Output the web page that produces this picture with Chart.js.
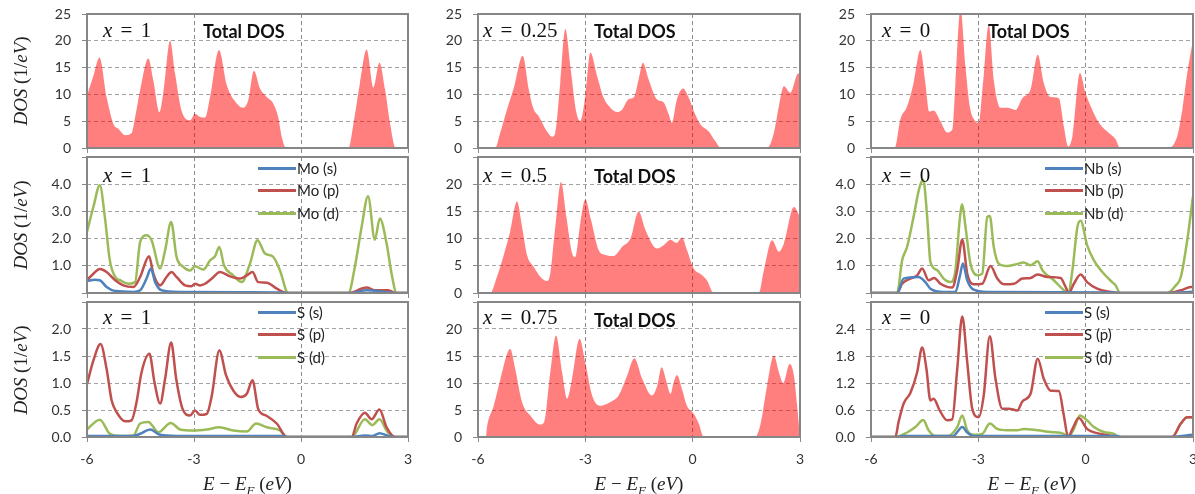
<!DOCTYPE html>
<html>
<head>
<meta charset="utf-8">
<script src="https://cdn.jsdelivr.net/npm/chart.js@4.4.1/dist/chart.umd.min.js"></script>
<style>
  html, body { margin: 0; padding: 0; background: #fff; overflow: hidden; }
  body { width: 1195px; height: 494px; position: relative; font-family: Lato, sans-serif; }
  .box { position: absolute; }
  .box canvas { display: block; }
  .xlab { position: absolute; font-family: "Liberation Serif", serif; font-size: 21px; word-spacing: 3px;
          line-height: 1; color: #111; white-space: nowrap; }
  .tag { position: absolute; font-family: Lato, sans-serif; font-weight: bold; font-size: 18px;
         line-height: 1; color: #111; white-space: nowrap; }
  .leg { position: absolute; font-size: 15px; line-height: 15px; height: 15px; color: #222;
         white-space: nowrap; display: flex; align-items: center; }
  .leg span { display: inline-block; width: 38px; height: 3px; margin-right: 1px; }
  .ytitle, .xtitle { position: absolute; font-family: "Liberation Serif", serif; white-space: nowrap;
                     color: #222; line-height: 1; }
  .ytitle { font-size: 19px; transform: translate(-50%, -50%) rotate(-90deg); }
  .xtitle { font-size: 19px; transform: translateX(-50%); }
</style>
</head>
<body>
<script>
// tick labels
const energyTicks = ['-6', '-3', '0', '3'];
const totTicks = ['0', '5', '10', '15', '20', '25'];
const totTicksCut = ['0', '5', '10', '15', '20', ''];
const dTicks = ['', '1.0', '2.0', '3.0', '4.0', ''];
const sMoTicks = ['0.0', '0.5', '1.0', '1.5', '2.0', ''];
const sNbTicks = ['0.0', '0.6', '1.2', '1.8', '2.4', ''];

const moNames = ['Mo (s)', 'Mo (p)', 'Mo (d)'];
const nbNames = ['Nb (s)', 'Nb (p)', 'Nb (d)'];
const sNames = ['S (s)', 'S (p)', 'S (d)'];

// total DOS, [E - EF (eV), DOS]
const totX1 = [[-6,9.8],[-5.82,13.5],[-5.65,16.9],[-5.45,9.5],[-5.26,4.5],[-5.12,3.6],[-4.93,2.4],[-4.75,2.8],[-4.65,5.8],[-4.51,10.8],[-4.28,16.7],[-4.14,12.6],[-3.97,6.7],[-3.84,11.4],[-3.67,20.0],[-3.53,13.9],[-3.35,7.0],[-3.11,5.2],[-2.97,6.4],[-2.83,5.8],[-2.69,5.7],[-2.55,9.5],[-2.30,18.3],[-2.08,11.7],[-1.80,8.3],[-1.62,7.5],[-1.48,8.9],[-1.32,14.4],[-1.15,11.1],[-0.96,9.5],[-0.78,8.3],[-0.64,5.8],[-0.54,2.1],[-0.42,0],[1.33,0],[1.47,4.5],[1.65,12.0],[1.84,18.4],[2.03,11.3],[2.20,15.9],[2.36,10.8],[2.50,4.5],[2.66,0],[3,0]];
const totX025 = [[-6,0],[-5.52,0],[-5.38,2.8],[-5.19,7.2],[-5.0,11.2],[-4.75,17.2],[-4.58,10.9],[-4.46,7.5],[-4.30,5.9],[-4.07,3.1],[-3.93,2.1],[-3.84,2.8],[-3.70,12.2],[-3.56,22.2],[-3.42,15.3],[-3.25,6.6],[-3.14,5.0],[-3.0,9.7],[-2.86,17.8],[-2.67,13.4],[-2.49,9.4],[-2.30,7.5],[-2.11,6.7],[-1.97,7.2],[-1.79,9.1],[-1.65,9.4],[-1.51,12.8],[-1.39,15.9],[-1.23,12.8],[-1.0,9.1],[-0.81,8.5],[-0.67,6.3],[-0.58,4.7],[-0.44,9.1],[-0.27,11.1],[-0.11,9.4],[0.03,6.9],[0.22,4.4],[0.45,3.1],[0.64,1.2],[0.79,0],[2.08,0],[2.27,2.8],[2.41,7.8],[2.55,11.5],[2.73,10.3],[2.95,13.9],[3,13.9]];
const totX05 = [[-6,0],[-5.66,0],[-5.47,3.0],[-5.28,7.0],[-5.10,11.3],[-4.91,16.8],[-4.77,12.2],[-4.63,7.0],[-4.44,4.8],[-4.26,3.0],[-4.07,2.2],[-3.98,3.6],[-3.84,12.2],[-3.68,20.4],[-3.53,14.0],[-3.37,7.3],[-3.28,6.6],[-3.14,12.8],[-3.0,17.2],[-2.84,13.4],[-2.63,7.9],[-2.44,7.0],[-2.21,6.8],[-1.97,8.5],[-1.74,10.0],[-1.51,15.0],[-1.32,11.6],[-1.0,8.2],[-0.81,8.8],[-0.62,9.8],[-0.45,9.2],[-0.30,10.2],[-0.16,7.9],[0.03,4.5],[0.26,3.3],[0.40,2.3],[0.59,0],[1.85,0],[1.99,4.2],[2.22,9.7],[2.41,7.6],[2.55,9.1],[2.83,15.8],[3,14.0]];
const totX075 = [[-6,0],[-5.78,0],[-5.75,1.8],[-5.56,5.8],[-5.38,10.5],[-5.10,16.3],[-4.96,12.6],[-4.77,6.5],[-4.54,4.0],[-4.26,2.3],[-4.15,2.8],[-3.98,12.0],[-3.82,18.8],[-3.65,12.0],[-3.51,7.1],[-3.37,10.8],[-3.16,18.2],[-3.0,13.8],[-2.81,7.7],[-2.58,5.8],[-2.30,6.5],[-2.07,7.7],[-1.83,11.4],[-1.63,14.6],[-1.41,10.8],[-1.14,7.7],[-0.99,9.5],[-0.87,12.9],[-0.73,10.2],[-0.62,8.0],[-0.53,10.2],[-0.44,11.5],[-0.30,8.9],[-0.16,5.8],[0.03,4.3],[0.17,2.5],[0.31,0],[1.75,0],[1.89,2.2],[2.08,9.5],[2.27,15.1],[2.41,12.0],[2.53,10.0],[2.71,13.5],[2.83,11.4],[2.92,5.8],[3,0]];
const totX0 = [[-6,0],[-5.34,0],[-5.18,5.3],[-4.99,7.8],[-4.81,12.1],[-4.62,18.3],[-4.48,12.1],[-4.37,6.8],[-4.25,7.0],[-4.06,5.0],[-3.87,2.9],[-3.73,3.4],[-3.64,12.1],[-3.50,26],[-3.36,15.2],[-3.24,7.8],[-3.08,5.0],[-2.99,4.7],[-2.87,12.1],[-2.71,23],[-2.57,12.7],[-2.38,7.5],[-2.19,7.5],[-1.96,7.1],[-1.77,9.3],[-1.54,10.9],[-1.34,17.4],[-1.17,12.1],[-0.98,9.5],[-0.75,9.3],[-0.61,4.0],[-0.49,0.3],[-0.37,2.2],[-0.16,14.0],[0.0,10.2],[0.14,7.8],[0.37,4.7],[0.70,2.5],[0.84,1.6],[0.96,0],[2.28,0],[2.56,2.2],[2.70,7.1],[2.84,14.0],[3,20.2]];

// Mo partial DOS (x = 1)
const moS = [[-6,0.44],[-5.78,0.49],[-5.64,0.47],[-5.45,0.22],[-5.21,0.07],[-4.70,0.04],[-4.51,0.1],[-4.33,0.53],[-4.21,0.9],[-4.09,0.4],[-3.91,0.1],[-3.39,0.04],[-1.5,0.03],[-0.5,0.02],[-0.4,0],[1.4,0],[1.84,0.1],[2.3,0.05],[2.64,0],[3,0]];
const moP = [[-6,0.47],[-5.82,0.71],[-5.64,0.88],[-5.45,0.77],[-5.21,0.47],[-4.98,0.28],[-4.70,0.22],[-4.51,0.59],[-4.26,1.35],[-4.14,0.71],[-3.95,0.28],[-3.77,0.59],[-3.63,0.77],[-3.49,0.59],[-3.25,0.28],[-3.07,0.25],[-2.97,0.34],[-2.83,0.28],[-2.69,0.34],[-2.50,0.53],[-2.27,0.77],[-1.99,0.61],[-1.71,0.53],[-1.52,0.65],[-1.36,0.77],[-1.20,0.4],[-0.96,0.38],[-0.68,0.16],[-0.40,0],[1.33,0],[1.84,0.2],[2.07,0.1],[2.45,0.1],[2.64,0],[3,0]];
const moD = [[-6,2.25],[-5.82,3.17],[-5.64,3.96],[-5.50,2.8],[-5.36,1.2],[-5.21,0.59],[-5.07,0.47],[-4.84,0.34],[-4.65,0.4],[-4.51,1.88],[-4.33,2.12],[-4.19,1.94],[-3.95,0.9],[-3.81,1.57],[-3.64,2.61],[-3.49,1.33],[-3.30,0.96],[-3.11,0.83],[-2.97,0.98],[-2.74,0.86],[-2.55,1.2],[-2.41,1.35],[-2.29,1.69],[-2.16,1.02],[-1.90,0.65],[-1.66,0.4],[-1.43,1.08],[-1.22,1.94],[-1.01,1.45],[-0.78,1.33],[-0.59,0.83],[-0.36,0],[1.33,0],[1.51,0.96],[1.70,2.43],[1.88,3.56],[2.07,1.96],[2.21,2.74],[2.40,1.82],[2.54,0.71],[2.68,0],[3,0]];

// S partial DOS (x = 1)
const smS = [[-6,0.02],[-4.7,0.02],[-4.51,0.06],[-4.23,0.14],[-3.95,0.04],[-3.5,0.02],[-0.5,0.02],[-0.4,0],[1.42,0],[1.79,0.03],[2.0,0.02],[2.2,0.07],[2.45,0.02],[2.64,0],[3,0]];
const smP = [[-6,0.98],[-5.82,1.42],[-5.62,1.72],[-5.45,1.26],[-5.31,0.68],[-5.17,0.46],[-4.93,0.29],[-4.75,0.31],[-4.61,0.65],[-4.47,1.2],[-4.25,1.54],[-4.11,1.02],[-3.95,0.62],[-3.81,1.08],[-3.64,1.75],[-3.50,1.08],[-3.32,0.52],[-3.11,0.4],[-2.97,0.49],[-2.83,0.41],[-2.64,0.43],[-2.50,0.77],[-2.29,1.6],[-2.10,1.14],[-1.90,0.86],[-1.69,0.74],[-1.52,0.8],[-1.36,1.05],[-1.20,0.52],[-0.96,0.39],[-0.68,0.25],[-0.40,0],[1.42,0],[1.56,0.25],[1.79,0.45],[1.98,0.33],[2.20,0.51],[2.40,0.18],[2.64,0],[3,0]];
const smD = [[-6,0.14],[-5.64,0.32],[-5.36,0.06],[-5.07,0.02],[-4.70,0.03],[-4.51,0.25],[-4.28,0.28],[-4.0,0.09],[-3.65,0.26],[-3.39,0.14],[-3.02,0.12],[-2.64,0.14],[-2.29,0.18],[-1.90,0.12],[-1.52,0.1],[-1.26,0.25],[-0.96,0.18],[-0.59,0.12],[-0.40,0],[1.42,0],[1.79,0.33],[2.0,0.22],[2.20,0.33],[2.43,0.09],[2.64,0],[3,0]];

// Nb partial DOS (x = 0)
const nbS = [[-6,0],[-5.27,0],[-5.09,0.53],[-4.67,0.59],[-4.48,0.4],[-4.34,0.16],[-3.97,0.04],[-3.64,0.04],[-3.52,0.6],[-3.43,1.08],[-3.31,0.47],[-3.13,0.12],[-2.75,0.04],[0.8,0.02],[1.0,0],[2.3,0],[3,0.05]];
const nbP = [[-6,0],[-5.27,0],[-5.13,0.34],[-4.90,0.53],[-4.71,0.65],[-4.57,0.9],[-4.39,0.47],[-4.23,0.55],[-4.06,0.34],[-3.73,0.2],[-3.59,0.84],[-3.45,1.97],[-3.31,0.71],[-3.13,0.32],[-2.89,0.34],[-2.66,0.99],[-2.47,0.53],[-2.29,0.32],[-2.0,0.34],[-1.77,0.53],[-1.54,0.55],[-1.35,0.68],[-1.07,0.59],[-0.70,0.55],[-0.56,0.22],[-0.47,0],[-0.33,0.34],[-0.14,0.68],[0.04,0.4],[0.32,0.16],[0.70,0.04],[0.93,0],[2.28,0],[2.66,0.1],[2.94,0.22],[3,0.22]];
const nbD = [[-6,0],[-5.27,0],[-5.13,1.2],[-4.99,1.7],[-4.81,2.8],[-4.65,3.85],[-4.54,4.16],[-4.43,2.8],[-4.34,1.15],[-4.15,0.84],[-3.97,0.53],[-3.78,0.4],[-3.64,0.84],[-3.52,2.7],[-3.45,3.26],[-3.36,2.44],[-3.22,1.08],[-3.03,0.65],[-2.89,0.71],[-2.75,2.8],[-2.68,2.83],[-2.57,1.7],[-2.43,1.08],[-2.19,0.99],[-1.96,1.05],[-1.73,1.12],[-1.54,1.02],[-1.34,1.17],[-1.21,0.84],[-0.89,0.47],[-0.61,0.1],[-0.49,0],[-0.37,0.84],[-0.23,2.44],[-0.14,2.66],[0.04,1.76],[0.23,1.2],[0.46,0.78],[0.74,0.4],[0.84,0.28],[0.96,0],[2.28,0],[2.52,0.28],[2.66,0.59],[2.84,1.95],[3,3.55]];

// S partial DOS (x = 0)
const snS = [[-6,0],[-5.3,0],[-5.1,0.02],[-3.7,0.02],[-3.59,0.11],[-3.45,0.22],[-3.31,0.1],[-3.13,0.02],[0.9,0.02],[1.0,0],[2.3,0],[3,0.05]];
const snP = [[-6,0],[-5.32,0],[-5.23,0.33],[-5.09,0.74],[-4.90,0.98],[-4.71,1.44],[-4.57,1.99],[-4.45,1.51],[-4.34,0.81],[-4.25,0.85],[-4.08,0.59],[-3.87,0.37],[-3.73,0.39],[-3.59,1.51],[-3.45,2.68],[-3.31,1.66],[-3.17,0.63],[-2.99,0.44],[-2.85,0.92],[-2.68,2.24],[-2.52,1.29],[-2.33,0.63],[-2.15,0.63],[-1.91,0.59],[-1.77,0.79],[-1.54,0.96],[-1.34,1.74],[-1.17,1.29],[-0.98,1.03],[-0.75,1.02],[-0.61,0.48],[-0.49,0],[-0.37,0.18],[-0.19,0.42],[0.04,0.18],[0.42,0.07],[0.79,0.02],[0.93,0],[2.42,0],[2.66,0.3],[2.84,0.44],[3,0.44]];
const snD = [[-6,0],[-5.32,0],[-4.99,0.1],[-4.76,0.22],[-4.54,0.38],[-4.39,0.15],[-4.20,0.02],[-3.87,0.02],[-3.59,0.22],[-3.45,0.48],[-3.31,0.15],[-3.13,0.05],[-2.89,0.07],[-2.68,0.3],[-2.47,0.18],[-2.19,0.15],[-1.91,0.15],[-1.73,0.18],[-1.35,0.15],[-0.98,0.11],[-0.61,0.07],[-0.49,0],[-0.33,0.18],[-0.16,0.48],[0.04,0.37],[0.23,0.22],[0.51,0.11],[0.79,0.07],[0.93,0],[2.42,0],[2.66,0.3],[2.84,0.44],[3,0.44]];

const pdosColors = ['#4f81bd', '#c0504d', '#9bbb59'];
const totColor = 'rgba(255,0,0,0.5)';

// layout of the 3x3 grid (pixels)
const colLeft = [0, 410, 800];
const plotL = [87, 478, 871];
const plotR = [408, 800, 1193];
const plotT = [14, 157, 302];
const plotB = [148, 293, 437];
const xLabPos = [103, 483, 882];
const xLabTop = [20, 165, 307];
const tagLeft = [203, 594, 988];
const tagTop = [22, 167, 311];

const panels = [
  { c: 0, r: 0, x: '1', total: totX1, ticks: totTicks, max: 25 },
  { c: 0, r: 1, x: '1', series: [moS, moP, moD], names: moNames, ticks: dTicks, max: 5, leg: [258, 168] },
  { c: 0, r: 2, x: '1', series: [smS, smP, smD], names: sNames, ticks: sMoTicks, max: 2.5, leg: [258, 312] },
  { c: 1, r: 0, x: '0.25', total: totX025, ticks: totTicks, max: 25 },
  { c: 1, r: 1, x: '0.5', total: totX05, ticks: totTicksCut, max: 25 },
  { c: 1, r: 2, x: '0.75', total: totX075, ticks: totTicksCut, max: 25 },
  { c: 2, r: 0, x: '0', total: totX0, ticks: totTicks, max: 25 },
  { c: 2, r: 1, x: '0', series: [nbS, nbP, nbD], names: nbNames, ticks: dTicks, max: 5, leg: [1045, 168] },
  { c: 2, r: 2, x: '0', series: [snS, snP, snD], names: sNames, ticks: sNbTicks, max: 3, leg: [1045, 312] }
];

Chart.defaults.font.family = 'Lato';
Chart.defaults.font.size = 14;
Chart.defaults.color = '#333';

const frame = {
  id: 'frame',
  afterDraw(chart) {
    const a = chart.chartArea, ctx = chart.ctx;
    ctx.save();
    ctx.strokeStyle = '#868686';
    ctx.lineWidth = 2;
    ctx.strokeRect(a.left, a.top, a.right - a.left, a.bottom - a.top);
    ctx.restore();
  }
};

function addEl(cls, html, left, top) {
  const el = document.createElement('div');
  el.className = cls;
  el.innerHTML = html;
  el.style.left = left + 'px';
  el.style.top = top + 'px';
  document.body.appendChild(el);
  return el;
}

const toXY = arr => arr.map(p => ({ x: p[0], y: p[1] }));

panels.forEach(p => {
  const padT = 10, padR = 10;
  const xH = p.r === 2 ? 40 : 6;
  const yW = plotL[p.c] - colLeft[p.c];
  const box = document.createElement('div');
  box.className = 'box';
  box.style.left = colLeft[p.c] + 'px';
  box.style.top = (plotT[p.r] - padT) + 'px';
  box.style.width = (plotR[p.c] - colLeft[p.c] + padR) + 'px';
  box.style.height = (plotB[p.r] - plotT[p.r] + padT + xH) + 'px';
  const cv = document.createElement('canvas');
  box.appendChild(cv);
  document.body.appendChild(box);

  let datasets;
  if (p.total) {
    datasets = [{
      label: 'Total DOS',
      data: toXY(p.total),
      fill: 'origin',
      backgroundColor: totColor,
      borderColor: 'transparent',
      borderWidth: 0,
      pointRadius: 0,
      cubicInterpolationMode: 'monotone'
    }];
  } else {
    datasets = p.series.map((s, i) => ({
      label: p.names[i],
      data: toXY(s),
      fill: false,
      borderColor: pdosColors[i],
      borderWidth: 2.5,
      pointRadius: 0,
      cubicInterpolationMode: 'monotone'
    }));
  }

  const nT = p.ticks.length;
  new Chart(cv, {
    type: 'line',
    data: { datasets },
    options: {
      responsive: true,
      maintainAspectRatio: false,
      animation: false,
      events: [],
      layout: { padding: { top: padT, right: padR, left: 0, bottom: 0 } },
      plugins: { legend: { display: false }, tooltip: { enabled: false } },
      scales: {
        x: {
          type: 'linear', min: -6, max: 3,
          afterBuildTicks: s => { s.ticks = energyTicks.map(t => ({ value: Number(t) })); },
          afterFit: s => { s.height = xH; s.paddingLeft = 0; s.paddingRight = 0; },
          ticks: {
            display: p.r === 2, autoSkip: false, maxRotation: 0, padding: 9,
            callback: (v, i) => energyTicks[i]
          },
          grid: { color: '#8a8a8a', tickColor: '#8a8a8a', tickLength: 5 },
          border: { display: false, dash: [4, 3] }
        },
        y: {
          min: 0, max: p.max,
          afterBuildTicks: s => { s.ticks = p.ticks.map((t, i) => ({ value: p.max * i / (nT - 1) })); },
          afterFit: s => { s.width = yW; s.paddingTop = 0; s.paddingBottom = 0; },
          ticks: { padding: 11, autoSkip: false, callback: (v, i) => p.ticks[i] },
          grid: { color: '#a3a3a3', tickColor: '#8a8a8a', tickLength: 5 },
          border: { display: false, dash: [4, 3] }
        }
      }
    },
    plugins: [frame]
  });

  addEl('xlab', '<i>x</i> = ' + p.x, xLabPos[p.c], xLabTop[p.r]);
  if (p.total) addEl('tag', 'Total DOS', tagLeft[p.c], tagTop[p.r]);
  if (p.series) {
    datasets.forEach((d, i) => {
      addEl('leg', '<span style="background:' + d.borderColor + '"></span>' + d.label,
        p.leg[0], p.leg[1] + i * 22.5 - 7.5);
    });
  }
});

// axis titles
[0, 1, 2].forEach(r => {
  addEl('ytitle', '<i>DOS</i> (1/<i>eV</i>)', 20, (plotT[r] + plotB[r]) / 2);
});
[0, 1, 2].forEach(c => {
  addEl('xtitle', '<i>E</i> − <i>E<sub style="font-size:13px">F</sub></i> (<i>eV</i>)',
    (plotL[c] + plotR[c]) / 2, 474);
});
</script>
</body>
</html>
